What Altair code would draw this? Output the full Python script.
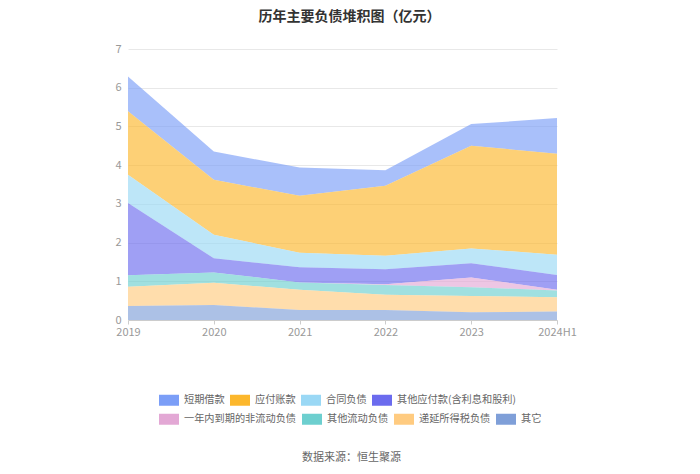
import altair as alt
import pandas as pd

years = ["2019", "2020", "2021", "2022", "2023", "2024H1"]
series = ["短期借款", "应付账款", "合同负债", "其他应付款(含利息和股利)",
          "一年内到期的非流动负债", "其他流动负债", "递延所得税负债", "其它"]
colors = ["#7B9EF7", "#FCB72C", "#9AD8F5", "#6B6BEE",
          "#E3A8D5", "#6DCFCF", "#FFCB80", "#7F9FD8"]

short_loans = [0.90, 0.73, 0.73, 0.40, 0.56, 0.92]
accounts_payable = [1.64, 1.42, 1.47, 1.81, 2.65, 2.61]
contract_liab = [0.73, 0.605, 0.38, 0.35, 0.385, 0.52]
other_payables = [1.865, 0.365, 0.39, 0.385, 0.365, 0.385]
current_noncurrent = [0.0, 0.0, 0.0, 0.02, 0.255, 0.015]
other_current = [0.295, 0.265, 0.19, 0.255, 0.225, 0.18]
deferred_tax = [0.50, 0.575, 0.52, 0.39, 0.42, 0.365]
others = [0.36, 0.39, 0.26, 0.26, 0.20, 0.22]

values = [short_loans, accounts_payable, contract_liab, other_payables,
          current_noncurrent, other_current, deferred_tax, others]

rows = []
for i, (name, vals) in enumerate(zip(series, values)):
    for y, v in zip(years, vals):
        rows.append({"year": y, "series": name, "value": v,
                     "order": len(series) - i, "group": 0 if i < 4 else 1})
df = pd.DataFrame(rows)

FONT = "Noto Sans CJK SC"

base = alt.Chart(df).transform_stack(
    stack="value", groupby=["year"], sort=[alt.SortField("order", order="ascending")],
    as_=["y0", "y1"]
)

x_enc = alt.X("year:O", sort=years, scale=alt.Scale(padding=0),
              axis=alt.Axis(title="数据来源：恒生聚源", labelAngle=0, labelColor="#999",
                            labelFontSize=11, labelFont=FONT, tickColor="#ccc", tickSize=4,
                            domainColor="#ccc", labelPadding=2, grid=False,
                            titleFont=FONT, titleFontSize=11, titleFontWeight="normal",
                            titleColor="#666", titleX=223, titleY=137,
                            titleBaseline="middle", titleAnchor="start", titleAlign="center"))
y_enc = alt.Y("y0:Q", scale=alt.Scale(domain=[0, 7]),
              axis=alt.Axis(title=None, values=[0, 1, 2, 3, 4, 5, 6, 7], labelColor="#999",
                            labelFontSize=11, labelFont=FONT, ticks=False, domain=False,
                            gridColor="#e8e8e8", labelPadding=7))


def legend(y):
    return alt.Legend(title=None, orient="none", legendX=31, legendY=y,
                      direction="horizontal",
                      symbolType="M-1,-0.55H1V0.55H-1Z", symbolSize=400,
                      symbolOpacity=1, symbolStrokeWidth=0,
                      labelFont=FONT, labelFontSize=10.2, labelColor="#666",
                      labelOffset=5, columnPadding=5, padding=0, labelLimit=300)


layers = []
for g, ly in [(0, 341), (1, 360)]:
    dom = series[g * 4:(g + 1) * 4]
    rng = colors[g * 4:(g + 1) * 4]
    layers.append(
        base.transform_filter(alt.datum.group == g).mark_area(opacity=0.65).encode(
            x=x_enc,
            y=y_enc,
            y2="y1:Q",
            color=alt.Color("series:N", sort=dom,
                            scale=alt.Scale(domain=dom, range=rng),
                            legend=legend(ly)),
            detail="order:Q",
        )
    )

chart = alt.layer(*layers).resolve_scale(color="independent").resolve_legend(
    color="independent"
).properties(
    width=429, height=271,
    title=alt.TitleParams("历年主要负债堆积图（亿元）", font=FONT, fontSize=14,
                          fontWeight="bold", color="#333", anchor="middle", offset=19, dx=7),
    padding={"left": 106, "top": 2, "right": 5, "bottom": 5},
).configure_view(stroke=None)

chart.save("out.html", embed_options={"renderer": "svg", "actions": False})
